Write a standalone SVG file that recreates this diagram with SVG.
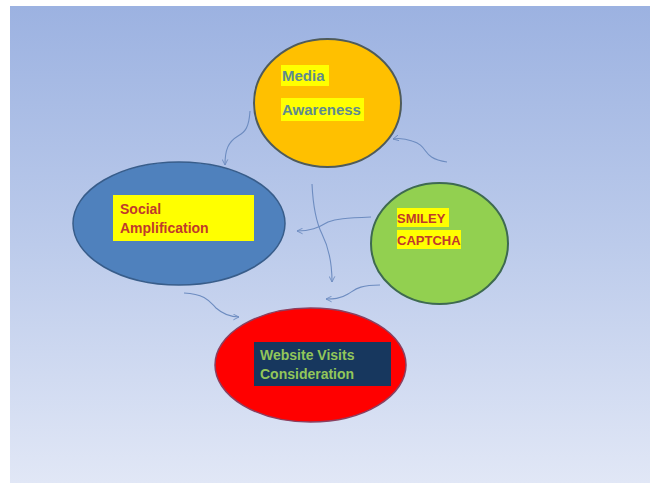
<svg xmlns="http://www.w3.org/2000/svg" width="650" height="483" viewBox="0 0 650 483">
  <defs>
    <linearGradient id="bg" x1="0" y1="0" x2="0" y2="1">
      <stop offset="0" stop-color="#9cb2e1"/>
      <stop offset="0.5" stop-color="#bccbeb"/>
      <stop offset="1" stop-color="#e1e7f6"/>
    </linearGradient>
    <marker id="arrow" viewBox="0 0 10 10" refX="9" refY="5" markerWidth="7" markerHeight="7" orient="auto-start-reverse" markerUnits="userSpaceOnUse">
      <path d="M1,1 L9,5 L1,9" fill="none" stroke="#6d8cc0" stroke-width="1.3"/>
    </marker>
  </defs>
  <style>
    .label { font-family: "Liberation Sans", Arial, sans-serif; font-weight: bold; }
    .conn { fill: none; stroke: #6d8cc0; stroke-width: 1.1; marker-end: url(#arrow); }
  </style>

  <rect x="0" y="0" width="650" height="483" fill="#ffffff"/>
  <rect x="10" y="6" width="640" height="477" fill="url(#bg)"/>

  <g id="connectors">
    <path class="conn" d="M250,111 C249,128 245,132 238,136 C228,142 225,150 225,165"/>
    <path class="conn" d="M447,162 C420,158 430,146 412,141 C404,138 398,138 393,139"/>
    <path class="conn" d="M312,184 C313,205 316,222 322,234 C330,250 332,265 332,282"/>
    <path class="conn" d="M371,217 C345,218 336,219 328,222 C318,228 310,231 297,231"/>
    <path class="conn" d="M380,285 C358,285 355,290 348,294 C340,299 333,299 326,299"/>
    <path class="conn" d="M184,293 C206,294 210,302 216,308 C224,315 232,317 239,317"/>
  </g>

  <g id="media-awareness">
    <ellipse cx="327.5" cy="103" rx="73.5" ry="64" fill="#ffc000" stroke="#4f5b5a" stroke-width="2"/>
    <rect x="281" y="65" width="48" height="21" fill="#ffff00"/>
    <rect x="281" y="98" width="83" height="23" fill="#ffff00"/>
    <text class="label" x="282" y="81" font-size="15" fill="#5e8b8f">Media</text>
    <text class="label" x="282" y="115" font-size="15" fill="#5e8b8f">Awareness</text>
  </g>

  <g id="social-amplification">
    <ellipse cx="179" cy="223.5" rx="106" ry="61.5" fill="#4f81bd" stroke="#385d8a" stroke-width="1.5"/>
    <rect x="113" y="195" width="141" height="46" fill="#ffff00"/>
    <text class="label" x="120" y="214" font-size="14" fill="#c0392b">Social</text>
    <text class="label" x="120" y="233" font-size="14" fill="#c0392b">Amplification</text>
  </g>

  <g id="smiley-captcha">
    <ellipse cx="439.5" cy="243.5" rx="68.5" ry="60.5" fill="#92d050" stroke="#3e6a50" stroke-width="2"/>
    <rect x="397" y="208" width="52" height="19" fill="#ffff00"/>
    <rect x="397" y="230" width="64" height="19" fill="#ffff00"/>
    <text class="label" x="397" y="223" font-size="13" fill="#c0392b">SMILEY</text>
    <text class="label" x="397" y="245" font-size="13" fill="#c0392b">CAPTCHA</text>
  </g>

  <g id="website-visits">
    <ellipse cx="310.5" cy="365" rx="95.5" ry="57" fill="#ff0000" stroke="#8a4060" stroke-width="1.5"/>
    <rect x="254" y="342" width="137" height="44" fill="#17375e"/>
    <text class="label" x="260" y="360" font-size="14" fill="#92c65a">Website Visits</text>
    <text class="label" x="260" y="379" font-size="14" fill="#92c65a">Consideration</text>
  </g>
</svg>
